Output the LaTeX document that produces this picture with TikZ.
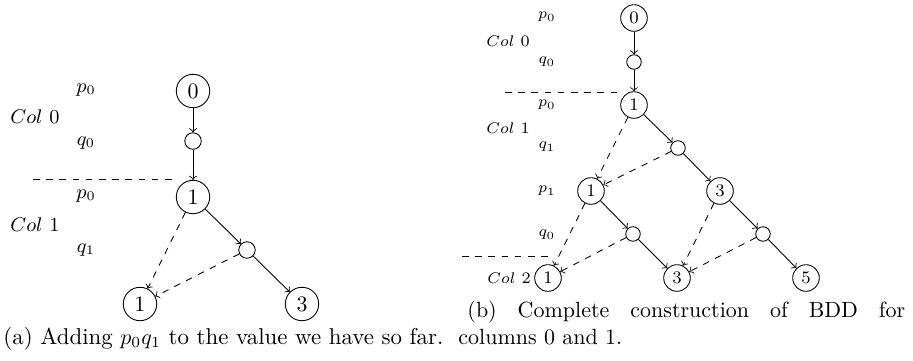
\documentclass[tikz,border=0pt]{standalone}
\tikzset{
  px/.style={x=0.4545pt,y=-0.4545pt},
  lbig/.style={circle,draw,minimum size=15.2pt,inner sep=0pt,font=\fontsize{10}{12}\selectfont},
  lsmall/.style={circle,draw,minimum size=7.5pt,inner sep=0pt},
  rbig/.style={circle,draw,minimum size=12.1pt,inner sep=0pt,font=\fontsize{8}{10}\selectfont},
  rsmall/.style={circle,draw,minimum size=6.6pt,inner sep=0pt},
  llab/.style={inner sep=0pt,font=\fontsize{9}{11}\selectfont},
  rlab/.style={inner sep=0pt,font=\fontsize{7.3}{9}\selectfont},
  captext/.style={anchor=base west,inner sep=0pt,font=\fontsize{10}{12}\selectfont},
  sol/.style={->},
  dsh/.style={->,dashed},
}
\begin{document}
\begin{tikzpicture}[px]
\useasboundingbox (0,0) rectangle (913,360);
% ---------- (a) ----------
\node[lbig] (A0) at (193,91) {0};
\node[lsmall] (As0) at (193,141) {};
\node[lbig] (A1) at (193,197) {1};
\node[lsmall] (As1) at (247,250) {};
\node[lbig] (AB1) at (140,304) {1};
\node[lbig] (AB3) at (302,304) {3};
\node[llab] (Lp0) at (86,90) {$p_0$};
\node[llab,anchor=west] (Lc0) at (10,117) {$Col$ 0};
\node[llab] (Lq0) at (86,143) {$q_0$};
\node[llab] (Lp0b) at (86,196) {$p_0$};
\node[llab,anchor=west] (Lc1) at (10,225) {$Col$ 1};
\node[llab] (Lq1) at (86,250) {$q_1$};
\coordinate (La) at (33,179);
\coordinate (Lb) at (175,179);
\draw[dashed] (La) -- (Lb);
\draw[sol] (A0) -- (As0);
\draw[sol] (As0) -- (A1);
\draw[sol] (A1) -- (As1);
\draw[sol] (As1) -- (AB3);
\draw[dsh] (A1) -- (AB1);
\draw[dsh] (As1) -- (AB1);
% ---------- (b) ----------
\node[rbig] (B0) at (634,18) {0};
\node[rsmall] (Bs0) at (634,62) {};
\node[rbig] (B1) at (634,105) {1};
\node[rsmall] (Bs1) at (678,148) {};
\node[rbig] (Bp1) at (591,191) {1};
\node[rbig] (Bp3) at (720,191) {3};
\node[rsmall] (Bs2) at (633,234) {};
\node[rsmall] (Bs3) at (763,234) {};
\node[rbig] (BB1) at (548,278) {1};
\node[rbig] (BB3) at (677,278) {3};
\node[rbig] (BB5) at (806,278) {5};
\node[rlab] (Rp0) at (547,17) {$p_0$};
\node[rlab,anchor=west] (Rc0) at (486,41) {$Col$ 0};
\node[rlab] (Rq0) at (547,62) {$q_0$};
\node[rlab] (Rp0b) at (547,105) {$p_0$};
\node[rlab,anchor=west] (Rc1) at (486,128) {$Col$ 1};
\node[rlab] (Rq1) at (547,147) {$q_1$};
\node[rlab] (Rp1) at (547,191) {$p_1$};
\node[rlab] (Rq0b) at (547,235) {$q_0$};
\node[rlab,anchor=west] (Rc2) at (487,278) {$Col$ 2};
\coordinate (Ra) at (505,92);
\coordinate (Rb) at (620,92);
\coordinate (Rc) at (462,256);
\coordinate (Rd) at (550,256);
\draw[dashed] (Ra) -- (Rb);
\draw[dashed] (Rc) -- (Rd);
\draw[sol] (B0) -- (Bs0);
\draw[sol] (Bs0) -- (B1);
\draw[sol] (B1) -- (Bs1);
\draw[dsh] (B1) -- (Bp1);
\draw[dsh] (Bs1) -- (Bp1);
\draw[sol] (Bs1) -- (Bp3);
\draw[sol] (Bp1) -- (Bs2);
\draw[dsh] (Bp1) -- (BB1);
\draw[dsh] (Bs2) -- (BB1);
\draw[sol] (Bs2) -- (BB3);
\draw[sol] (Bp3) -- (Bs3);
\draw[dsh] (Bp3) -- (BB3);
\draw[dsh] (Bs3) -- (BB3);
\draw[sol] (Bs3) -- (BB5);
% ---------- captions ----------
\node[captext,font=\fontsize{10.4}{12.5}\selectfont] (CapA) at (3,344) {(a) Adding $p_0q_1$ to the value we have so far.};
\node[captext] (CapB1) at (467,317) {\makebox[199pt][s]{(b) Complete construction of BDD for}};
\node[captext] (CapB2) at (458,344) {columns 0 and 1.};
\end{tikzpicture}
\end{document}
